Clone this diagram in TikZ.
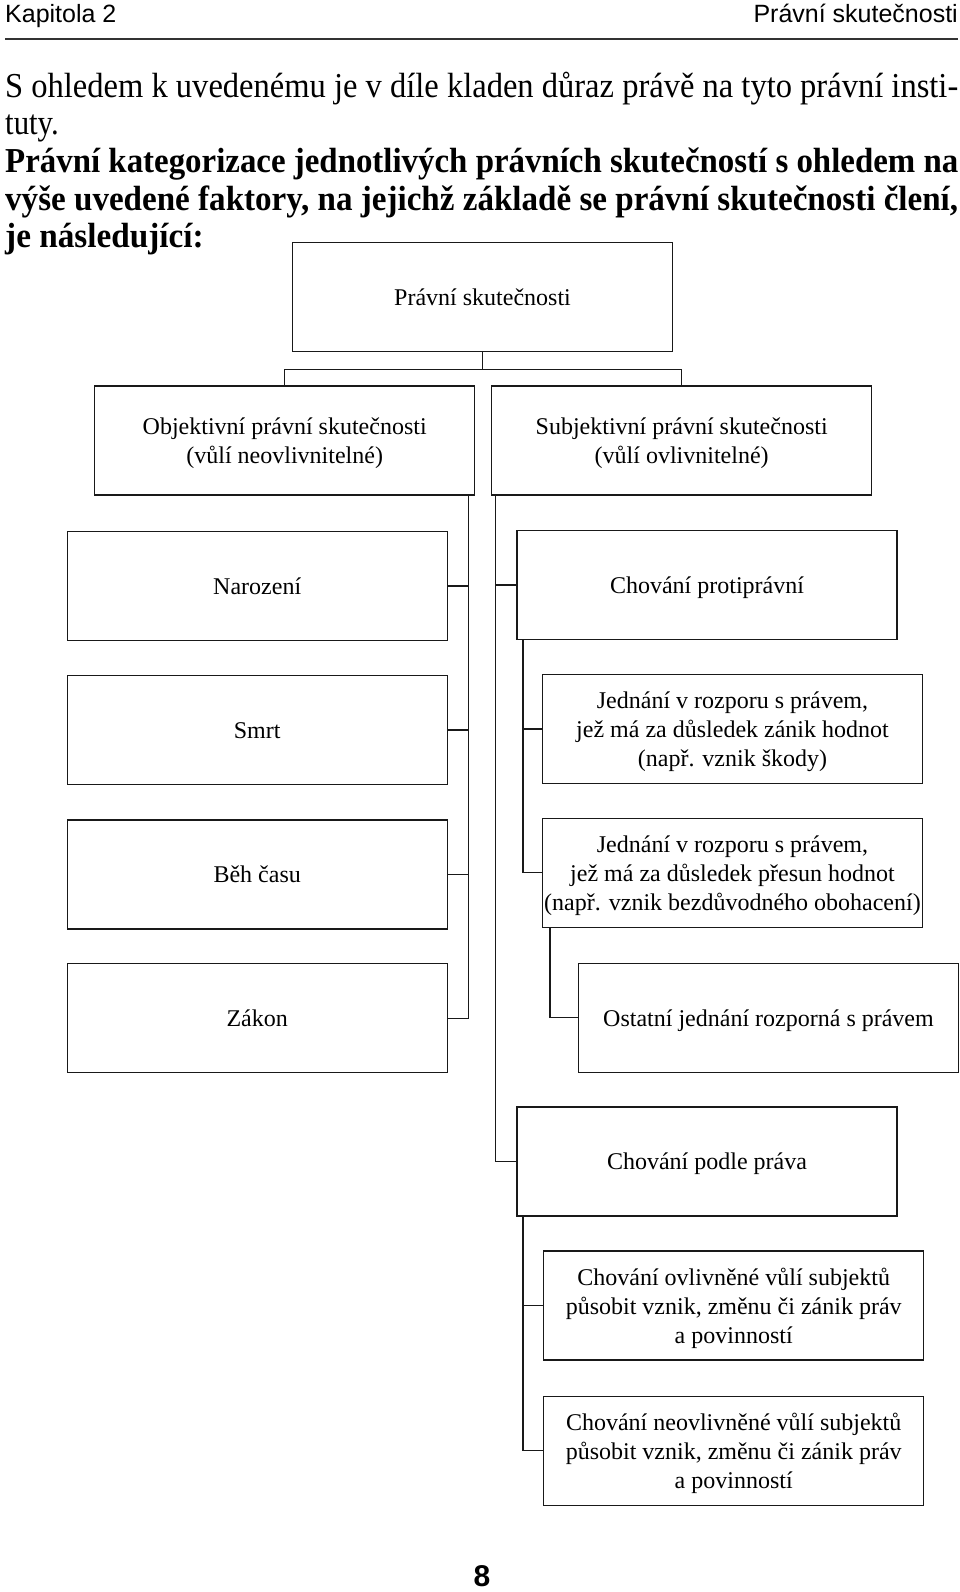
\documentclass[tikz,border=0pt]{standalone}
\usepackage{fontspec}
\setmainfont{Liberation Serif}
\newfontfamily\hlavicka{Liberation Sans}
\usepackage{graphicx}
\usepackage{tikz}

% řádek odstavce do plné šířky
\newcommand{\radek}[1]{\resizebox{953pt}{\height}{#1}}

\tikzset{
  ramec/.style={draw=black!90, line width=1.3pt, minimum width=380pt, minimum height=109pt,
    inner sep=0pt, align=center, text depth=0pt, font=\fontsize{24}{29}\selectfont},
  spoj/.style={draw=black!90, line width=1.3pt},
  odst/.style={anchor=base west, inner sep=0pt, font=\fontsize{35}{42}\selectfont}
}

\begin{document}
\begin{tikzpicture}[x=1pt, y=-1pt]
\useasboundingbox (0,0) rectangle (960,1592);
% záhlaví
\node [anchor=base west, inner sep=0pt, font=\hlavicka\fontsize{25}{25}\selectfont] (kapitola) at (5,22.5) {Kapitola 2};
\node [anchor=base east, inner sep=0pt, font=\hlavicka\fontsize{25}{25}\selectfont] (nazev) at (958,22.5) {Právní skutečnosti};
\draw [line width=1.8pt, black!80] (5,39) -- (958,39);
% odstavec
\node [odst] (r1) at (5,97.3) {\radek{S ohledem k uvedenému je v díle kladen důraz právě na tyto právní insti-}};
\node [odst] (r2) at (5,134.3) {\scalebox{0.88}[1]{tuty.}};
\node [odst] (r3) at (5,172.3) {\radek{\bfseries Právní kategorizace jednotlivých právních skutečností s ohledem na}};
\node [odst] (r4) at (5,210.3) {\radek{\bfseries výše uvedené faktory, na jejichž základě se právní skutečnosti člení,}};
\node [odst] (r5) at (5,247.3) {\scalebox{0.95}[1]{\bfseries je následující:}};
% rámečky
\node [ramec] (skut) at (482.5,297) {Právní skutečnosti};
\node [ramec] (obj) at (284.7,440.5) {Objektivní právní skutečnosti\\(vůlí neovlivnitelné)};
\node [ramec] (subj) at (681.7,440.5) {Subjektivní právní skutečnosti\\(vůlí ovlivnitelné)};
\node [ramec] (narozeni) at (257.2,586) {Narození};
\node [ramec] (smrt) at (257.2,730.1) {Smrt};
\node [ramec] (beh) at (257.2,874.5) {Běh času};
\node [ramec] (zakon) at (257.2,1018.3) {Zákon};
\node [ramec] (protipravni) at (707,585) {Chování protiprávní};
\node [ramec] (zanik) at (732.5,729) {Jednání v rozporu s právem,\\jež má za důsledek zánik hodnot\\(např. vznik škody)};
\node [ramec] (presun) at (732.5,872.7) {Jednání v rozporu s právem,\\jež má za důsledek přesun hodnot\\(např. vznik bezdůvodného obohacení)};
\node [ramec] (ostatni) at (768.5,1017.8) {Ostatní jednání rozporná s právem};
\node [ramec] (podle) at (707,1161.4) {Chování podle práva};
\node [ramec] (ovlivnene) at (733.7,1305.5) {Chování ovlivněné vůlí subjektů\\působit vznik, změnu či zánik práv\\a povinností};
\node [ramec] (neovlivnene) at (733.7,1450.7) {Chování neovlivněné vůlí subjektů\\působit vznik, změnu či zánik práv\\a povinností};
% spojnice
\draw [spoj] (skut.south) -- ++(0,17.5) -| (obj.north);
\draw [spoj] (skut.south) -- ++(0,17.5) -| (subj.north);
\draw [spoj] ([xshift=-6.7pt]obj.south east) |- (narozeni.east);
\draw [spoj] ([xshift=-6.7pt]obj.south east) |- (smrt.east);
\draw [spoj] ([xshift=-6.7pt]obj.south east) |- (beh.east);
\draw [spoj] ([xshift=-6.7pt]obj.south east) |- (zakon.east);
\draw [spoj] ([xshift=4.3pt]subj.south west) |- (protipravni.west);
\draw [spoj] ([xshift=4.3pt]subj.south west) |- (podle.west);
\draw [spoj] ([xshift=6.5pt]protipravni.south west) |- (zanik.west);
\draw [spoj] ([xshift=6.5pt]protipravni.south west) |- (presun.west);
\draw [spoj] ([xshift=8pt]presun.south west) |- (ostatni.west);
\draw [spoj] ([xshift=6.5pt]podle.south west) |- (ovlivnene.west);
\draw [spoj] ([xshift=6.5pt]podle.south west) |- (neovlivnene.west);
% číslo strany
\node [anchor=base, inner sep=0pt, font=\hlavicka\bfseries\fontsize{30}{30}\selectfont] (strana) at (482,1586) {8};
\end{tikzpicture}
\end{document}
